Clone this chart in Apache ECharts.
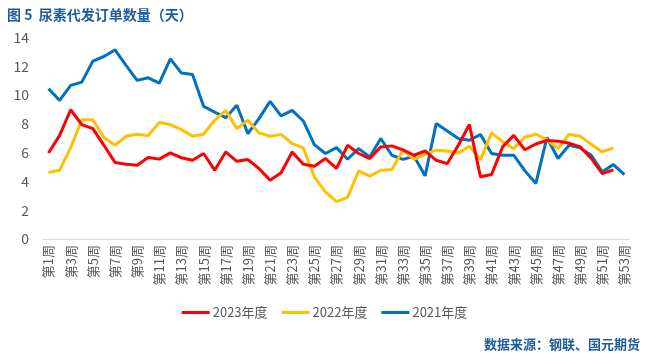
<!DOCTYPE html>
<html>
<head>
<meta charset="utf-8">
<script src="https://cdn.jsdelivr.net/npm/echarts@6/dist/echarts.min.js"></script>
<style>
html,body{margin:0;padding:0;background:#fff;}
#chart{width:649px;height:353px;}
</style>
</head>
<body>
<div id="chart"></div>
<script>
var weeks = [];
for (var i = 1; i <= 53; i++) weeks.push('第' + i + '周');

var y2023 = [5.98, 7.2, 8.98, 7.95, 7.67, 6.51, 5.32, 5.2, 5.13, 5.66, 5.55,
  5.98, 5.64, 5.47, 5.94, 4.78, 6.05, 5.4, 5.52, 4.9, 4.09, 4.6,
  6.05, 5.2, 5.06, 5.59, 4.9, 6.51, 5.94, 5.59, 6.4, 6.47, 6.19,
  5.82, 6.12, 5.47, 5.24, 6.51, 7.95, 4.32, 4.48, 6.4, 7.2, 6.2,
  6.6, 6.85, 6.8, 6.65, 6.4, 5.6, 4.55, 4.8, null];

var y2022 = [4.62, 4.78, 6.35, 8.29, 8.29, 7.05, 6.51, 7.14, 7.28, 7.18, 8.1,
  7.95, 7.6, 7.14, 7.28, 8.25, 8.94, 7.67, 8.25, 7.37, 7.14, 7.27,
  6.63, 6.33, 4.32, 3.28, 2.59, 2.89, 4.73, 4.37, 4.78, 4.83, 6.17,
  5.54, 5.89, 6.17, 6.12, 5.98, 6.44, 5.52, 7.37, 6.75, 6.28, 7.07,
  7.28, 6.9, 6.28, 7.28, 7.14, 6.58, 6.05, 6.33, null];

var y2021 = [10.44, 9.63, 10.67, 10.9, 12.36, 12.68, 13.14, 12.06, 11.02, 11.2, 10.83,
  12.52, 11.53, 11.43, 9.22, 8.82, 8.43, 9.29, 7.32, 8.36, 9.56, 8.55,
  8.94, 8.2, 6.56, 5.94, 6.35, 5.54, 6.28, 5.7, 6.98, 5.82, 5.53,
  5.75, 4.39, 8.02, 7.5, 6.98, 6.86, 7.26, 5.94, 5.82, 5.82, 4.75,
  3.86, 7.05, 5.59, 6.51, 6.33, 5.82, 4.67, 5.17, 4.48];

var seriesNames = ['2023年度', '2022年度', '2021年度'];
var seriesColors = ['#FF0000', '#FFC000', '#0070C0'];
var seriesData = [y2023, y2022, y2021];

var chart = echarts.init(document.getElementById('chart'));
var font = '"Noto Sans CJK SC", "Noto Sans", sans-serif';
chart.setOption({
  animation: false,
  textStyle: { fontFamily: font },
  title: [
    { text: '图 5  尿素代发订单数量（天）', left: 2, top: 3,
      textStyle: { color: '#1F5C99', fontSize: 14, fontWeight: 'bold', fontFamily: font } },
    { text: '数据来源：钢联、国元期货', right: 4, top: 333,
      textStyle: { color: '#1F5C99', fontSize: 13, fontWeight: 'bold', fontFamily: font } }
  ],
  legend: {
    data: seriesNames,
    bottom: 29,
    left: 'center',
    itemWidth: 28,
    itemHeight: 3,
    itemGap: 14,
    icon: 'rect',
    textStyle: { color: '#595959', fontSize: 13, fontFamily: font, padding: [0, 0, 0, -2] }
  },
  grid: { left: 43, right: 19, top: 37.5, bottom: 114, containLabel: false },
  xAxis: {
    type: 'category',
    data: weeks,
    boundaryGap: true,
    axisLine: { lineStyle: { color: '#D9D9D9', width: 1 } },
    axisTick: { show: false },
    axisLabel: {
      interval: 1,
      rotate: 90,
      color: '#595959',
      fontSize: 13,
      margin: 6,
      fontFamily: font
    }
  },
  yAxis: {
    type: 'value',
    min: 0, max: 14, interval: 2,
    axisLine: { show: false },
    axisTick: { show: false },
    splitLine: { show: false },
    axisLabel: { color: '#595959', fontSize: 14, margin: 14, fontFamily: font }
  },
  series: seriesData.map(function (d, i) {
    return {
      name: seriesNames[i],
      type: 'line',
      data: d,
      symbol: 'none',
      color: seriesColors[i],
      lineStyle: { width: 3, color: seriesColors[i] },
      z: 3 - i
    };
  })
});
</script>
</body>
</html>
